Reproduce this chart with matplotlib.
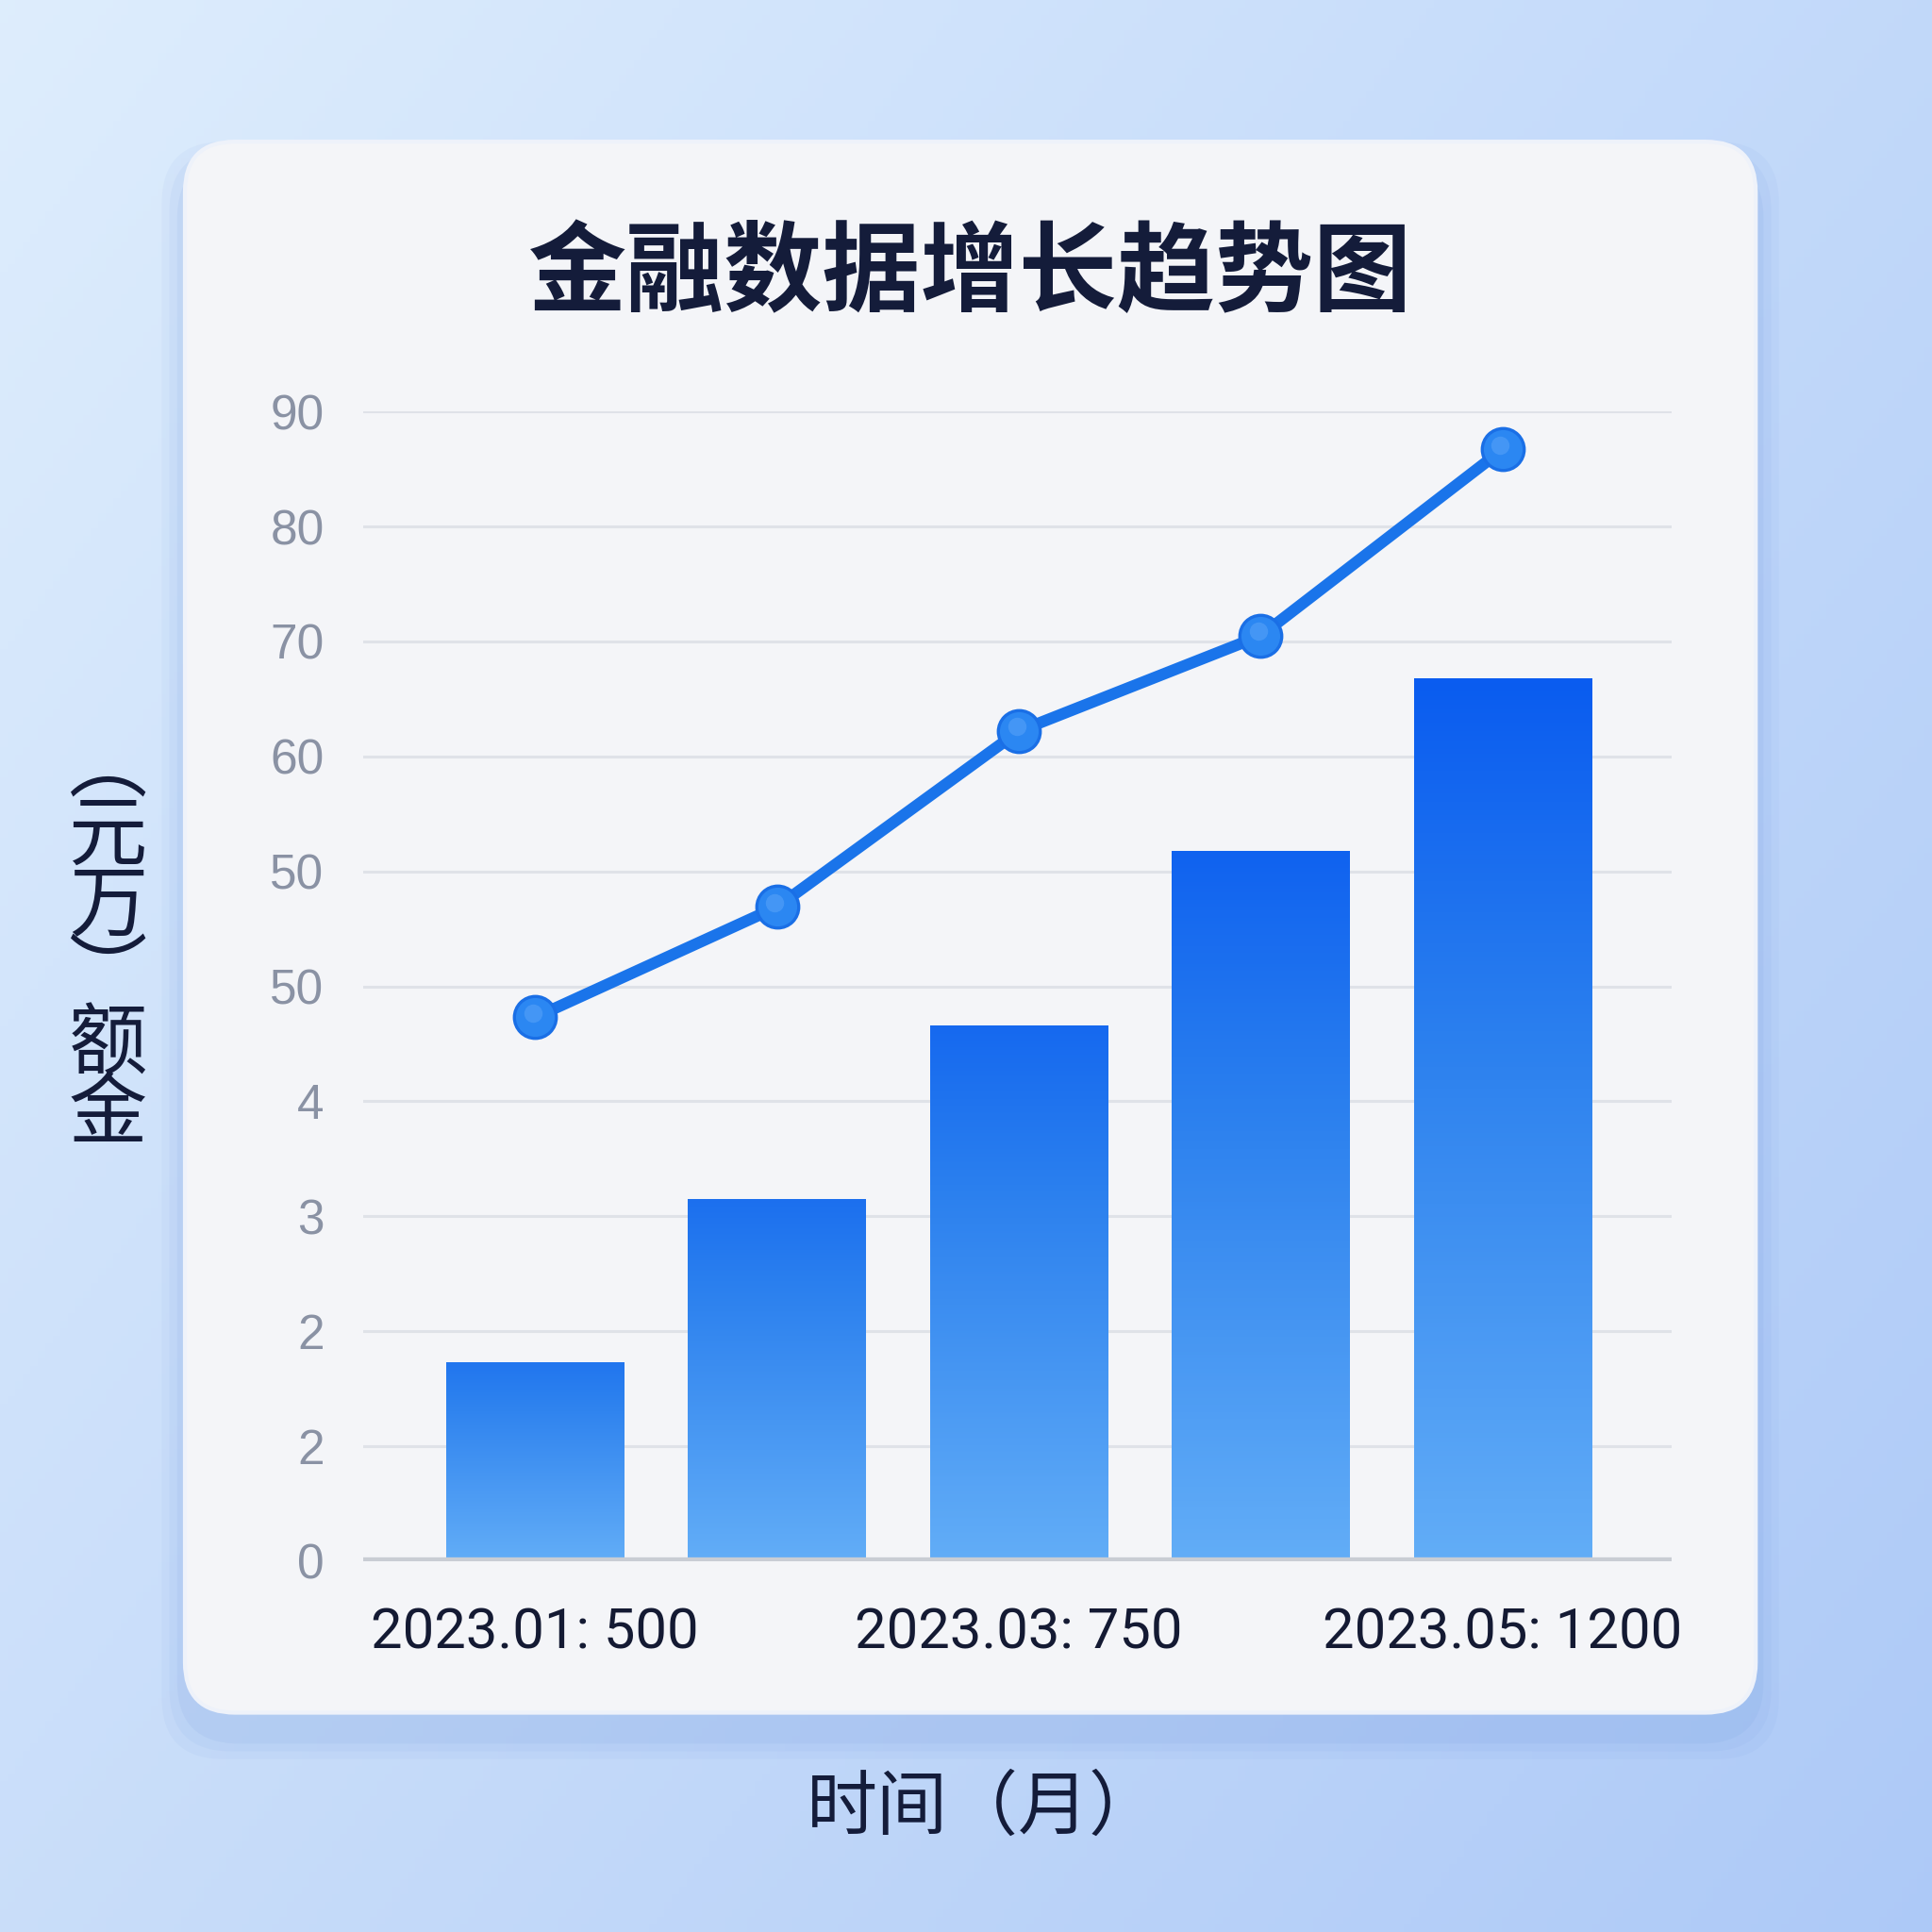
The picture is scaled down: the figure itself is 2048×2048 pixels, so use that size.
import numpy as np, matplotlib
matplotlib.use('Agg')
import matplotlib.pyplot as plt
from matplotlib.patches import FancyBboxPatch
from matplotlib.colors import LinearSegmentedColormap

plt.rcParams['font.family'] = ['Noto Sans CJK SC', 'DejaVu Sans']

# ---- data (in gridline units 0..100) ----
months = ['2023.01', '2023.02', '2023.03', '2023.04', '2023.05']
bar_vals = [17.3, 31.5, 46.6, 61.8, 76.8]
line_vals = [47.3, 56.9, 72.2, 80.5, 96.7]
ytick_pos = [0, 10, 20, 30, 40, 50, 60, 70, 80, 90, 100]
ytick_labels = ['0', '2', '2', '3', '4', '50', '50', '60', '70', '80', '90']
xtick_idx = [0, 2, 4]
xtick_labels = ['2023.01: 500', '2023.03: 750', '2023.05: 1200']
title = '金融数据增长趋势图'
xlabel = '时间（月）'
ylabel = '\n'.join(['︵', '元', '万', '︶', '额', '金'])

NAVY = '#141c3a'; GRID = '#dfe2e8'; TICK = '#8a92a4'

fig = plt.figure(figsize=(10.24, 10.24), dpi=200)

# background gradient + card
bg = fig.add_axes([0, 0, 1, 1]); bg.axis('off')
bg.set_xlim(0, 1); bg.set_ylim(0, 1)
tl = np.array([0.87, 0.93, 0.99]); tr = np.array([0.76, 0.85, 0.98])
bl = np.array([0.79, 0.87, 0.98]); br = np.array([0.68, 0.79, 0.97])
u = np.linspace(0, 1, 256)[None, :, None]; v = np.linspace(0, 1, 256)[:, None, None]
img = (1 - v) * ((1 - u) * tl + u * tr) + v * ((1 - u) * bl + u * br)
bg.imshow(img, extent=(0, 1, 0, 1), aspect='auto', zorder=0)
for i, a in enumerate([0.05, 0.06, 0.08]):
    d = 0.012 - i * 0.004
    bg.add_patch(FancyBboxPatch((0.0957 - d, 0.1135 - d - 0.012), 0.8131 + 2 * d, 0.8132 + 2 * d,
                                boxstyle='round,pad=0,rounding_size=0.032', fc='#5a86d8', ec='none',
                                alpha=a, zorder=1))
bg.add_patch(FancyBboxPatch((0.0957, 0.1135), 0.8131, 0.8132,
                            boxstyle='round,pad=0,rounding_size=0.026', fc='#f4f5f8', ec='#eef2fa',
                            lw=1.5, zorder=2))

fig.text(0.502, 0.858, title, ha='center', va='center', fontsize=37.5, fontweight='bold', color=NAVY)
fig.text(0.509, 0.064, xlabel, ha='center', va='center', fontsize=27, color=NAVY)
fig.text(0.056, 0.513, ylabel, ha='center', va='center', fontsize=30, color=NAVY, linespacing=0.81)

# ---- main chart ----
ax = fig.add_axes([0.1881, 0.192, 0.6773, 0.595])
ax.set_facecolor('none')
x = np.arange(len(months))
bars = ax.bar(x, bar_vals, width=0.735, color='none', edgecolor='none', zorder=3)
cmap = LinearSegmentedColormap.from_list('bb', [(0, '#62adf7'), (0.6, '#2a7fee'), (1, '#0a5cf0')])
hmax = max(bar_vals)
for p in bars:
    x0, w, h = p.get_x(), p.get_width(), p.get_height()
    top = 0.62 + 0.38 * h / hmax
    grad = np.linspace(top, 0, 200)[:, None]
    im = ax.imshow(grad, extent=(x0, x0 + w, 0, h), cmap=cmap, vmin=0, vmax=1,
                   aspect='auto', zorder=3)
    im.set_clip_path(p)
ax.plot(x, line_vals, color='#1a74ea', lw=4.4, marker='o', ms=16, mfc='#2b87f2',
        mec='#1a6fe6', mew=1.2, zorder=5, clip_on=False)
ax.plot(x - 0.01, np.array(line_vals) + 0.4, ls='none', marker='o', ms=7, mfc='#5ea6f8',
        mec='none', alpha=0.5, zorder=6, clip_on=False)

ax.set_xlim(-0.71, 4.70); ax.set_ylim(0, 100)
ax.set_yticks(ytick_pos); ax.set_yticklabels(ytick_labels)
ax.set_xticks(xtick_idx); ax.set_xticklabels(xtick_labels)
for t in ax.get_yticklabels():
    t.set_family(['Liberation Sans', 'DejaVu Sans']); t.set_fontsize(18.5); t.set_color(TICK)
for t in ax.get_xticklabels():
    t.set_family(['Roboto', 'DejaVu Sans']); t.set_fontsize(21.5); t.set_color('#141a33')
ax.tick_params(axis='both', length=0)
ax.tick_params(axis='y', pad=15)
ax.tick_params(axis='x', pad=17)
ax.grid(axis='y', color=GRID, lw=1.1, zorder=1)
ax.set_axisbelow(True)
for s in ax.spines.values():
    s.set_visible(False)
ax.axhline(0, color='#c9cdd4', lw=3.0, zorder=4)

fig.savefig('out.png', dpi=200)
